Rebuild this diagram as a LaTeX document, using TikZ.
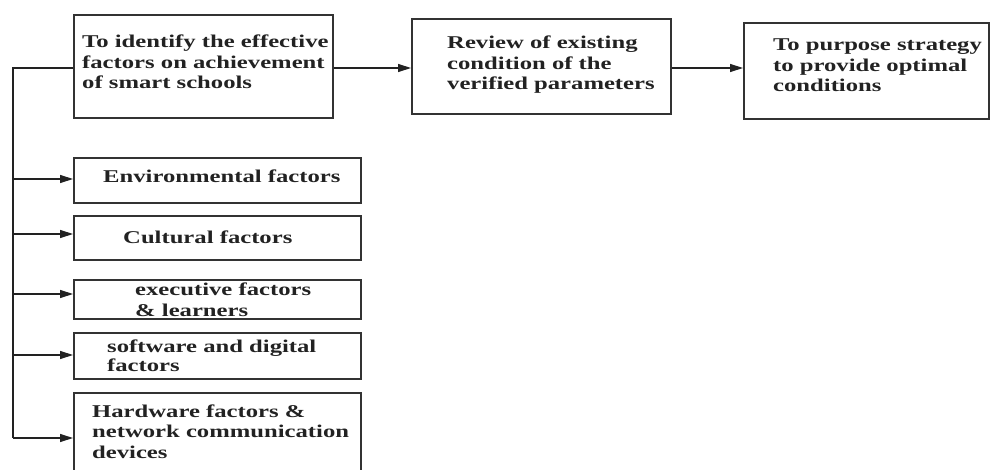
\documentclass[tikz,border=0pt]{standalone}
\usepackage{fontspec}
\setmainfont{Liberation Serif}[FakeStretch=1.37]
\usetikzlibrary{arrows.meta}
\definecolor{ink}{HTML}{222222}
\definecolor{edge}{HTML}{333333}
\tikzset{
  box/.style={draw=edge, line width=1.6pt, inner sep=0pt, anchor=north west},
  txt/.style={inner sep=0pt, anchor=base west, align=left, text=ink,
              font=\fontsize{18}{20.5}\selectfont\bfseries},
  conn/.style={draw=ink, line width=1.3pt},
  arr/.style={conn, -{Triangle[length=13pt,width=8pt]}}
}
\begin{document}
\begin{tikzpicture}[x=1pt, y=-1pt]
\useasboundingbox (0,0) rectangle (990,470);
\clip (0,0) rectangle (990,470);
% main row boxes
\node[box, minimum width=259pt, minimum height=103pt] (b1) at (73,14) {};
\node[box, minimum width=259pt, minimum height=95pt] (b2) at (411,18) {};
\node[box, minimum width=245pt, minimum height=96pt] (b3) at (743,22) {};
% factor boxes
\node[box, minimum width=287pt, minimum height=45pt] (f1) at (73,157) {};
\node[box, minimum width=287pt, minimum height=44pt] (f2) at (73,215) {};
\node[box, minimum width=287pt, minimum height=39pt] (f3) at (73,279) {};
\node[box, minimum width=287pt, minimum height=46pt] (f4) at (73,332) {};
\node[box, minimum width=287pt, minimum height=100pt] (f5) at (73,392) {};
% texts (anchored at the baseline of the last line)
\node[txt] (t1) at (82,89) {To identify the effective\\factors on achievement\\of smart schools};
\node[txt] (t2) at (447,90) {Review of existing\\condition of the\\verified parameters};
\node[txt] (t3) at (773,92) {To purpose strategy\\to provide optimal\\conditions};
\node[txt] (tf1) at (103,183) {Environmental factors};
\node[txt] (tf2) at (123,244) {Cultural factors};
\node[txt] (tf3) at (135,316) {executive factors\\\& learners};
\node[txt, font=\fontsize{18}{18.5}\selectfont\bfseries] (tf4) at (107,371) {software and digital\\factors};
\node[txt] (tf5) at (92,458) {Hardware factors \&\\network communication\\devices};
% connectors
\coordinate (mid) at (0,68);
\coordinate (top) at (13,68);
\coordinate (c1) at (13,179);
\coordinate (c2) at (13,234);
\coordinate (c3) at (13,294);
\coordinate (c4) at (13,355);
\coordinate (c5) at (13,438);
\draw[arr] (b1.east |- mid) -- (b2.west |- mid);
\draw[arr] (b2.east |- mid) -- (b3.west |- mid);
\draw[conn] (b1.west |- mid) -- (top) -- (c5);
\draw[arr] (c1) -- (c1 -| f1.west);
\draw[arr] (c2) -- (c2 -| f2.west);
\draw[arr] (c3) -- (c3 -| f3.west);
\draw[arr] (c4) -- (c4 -| f4.west);
\draw[arr] (c5) -- (c5 -| f5.west);
\end{tikzpicture}
\end{document}
